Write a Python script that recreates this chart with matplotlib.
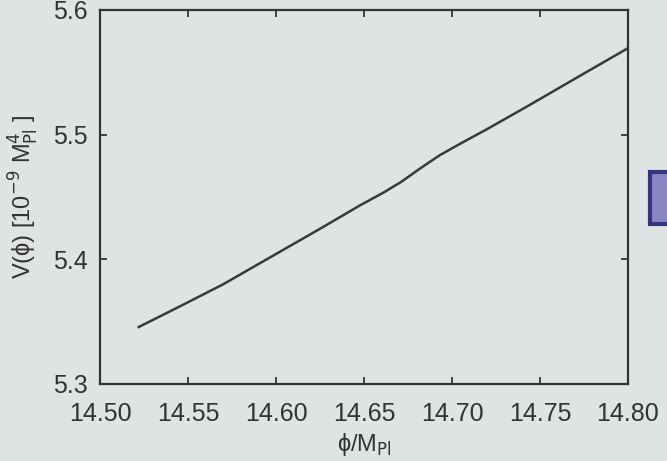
import matplotlib.pyplot as plt
from matplotlib.patches import Rectangle

# curve
phi = [14.522, 14.545, 14.570, 14.602, 14.625, 14.648, 14.661, 14.671,
       14.682, 14.693, 14.705, 14.720, 14.744, 14.770, 14.800]
V = [5.3457, 5.3620, 5.3800, 5.4059, 5.4245, 5.4435, 5.4535, 5.4620,
     5.4730, 5.4835, 5.4930, 5.5045, 5.5237, 5.5450, 5.5694]

x_ticks = [14.50, 14.55, 14.60, 14.65, 14.70, 14.75, 14.80]
y_ticks = [5.3, 5.4, 5.5, 5.6]

bg = '#dfe3e3'
ink = '#333333'

plt.rcParams['font.family'] = ['Liberation Sans', 'DejaVu Sans']

fig = plt.figure(figsize=(6.67, 4.61), dpi=100, facecolor=bg)
ax = fig.add_axes([100 / 667, 77 / 461, 528 / 667, 374 / 461], facecolor=bg)

ax.plot(phi, V, color='#3a3a3a', lw=1.8)

ax.set_xlim(14.50, 14.80)
ax.set_ylim(5.3, 5.6)
ax.set_xticks(x_ticks)
ax.set_xticklabels([f'{t:.2f}' for t in x_ticks])
ax.set_yticks(y_ticks)
ax.set_yticklabels([f'{t:.1f}' for t in y_ticks])

ax.tick_params(direction='in', length=5, width=1.3, top=True, right=True,
               labelsize=18, colors=ink)
ax.tick_params(axis='x', pad=13)
ax.tick_params(axis='y', pad=9)
for s in ax.spines.values():
    s.set_color(ink)
    s.set_linewidth(1.6)

ax.set_xlabel('ϕ/M$_{\\rm Pl}$', fontsize=17, color=ink)
ax.set_ylabel('V(ϕ) [10$^{-9}$ M$_{\\rm Pl}^4$ ]', fontsize=17, color=ink)
ax.xaxis.set_label_coords(0.5, -0.125)
ax.yaxis.set_label_coords(-0.112, 0.5)

# edge of the next slide element on the right
fig.patches.append(Rectangle((650 / 667, 237 / 461), 20 / 667, 52 / 461,
                             transform=fig.transFigure, facecolor='#8a86c4',
                             edgecolor='#35357e', lw=3))

fig.savefig('out.png', dpi=100, facecolor=bg)
